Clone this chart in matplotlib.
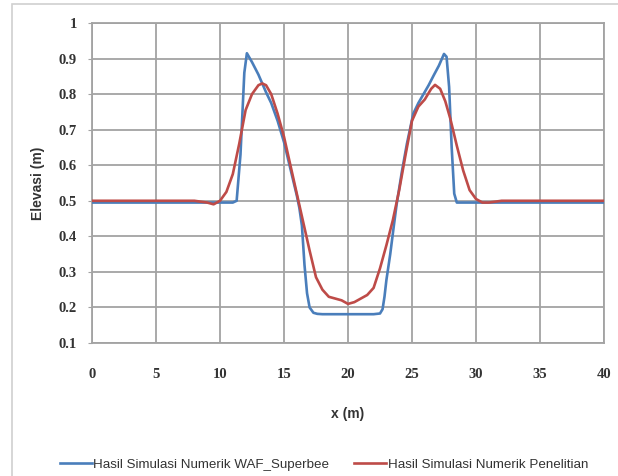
import matplotlib
matplotlib.use("Agg")
import matplotlib.pyplot as plt
from matplotlib.patches import Rectangle

# ---- data ----
x_waf = [0, 5, 10, 11, 11.3, 11.6, 11.9, 12.1, 12.5, 13, 13.3, 13.6, 14, 14.5, 15, 15.5,
         16, 16.2, 16.4, 16.6, 16.8, 17.0, 17.3, 17.6, 18, 19, 20, 21, 22, 22.5,
         22.7, 22.85, 23.0, 23.3, 23.6, 23.8, 24.2, 24.6, 25.1, 25.5, 25.9, 26.3,
         26.7, 27.1, 27.5, 27.7, 27.9, 28.1, 28.3, 28.5, 29, 30, 35, 40]
y_waf = [0.495, 0.495, 0.495, 0.495, 0.50, 0.63, 0.86, 0.915, 0.89, 0.855, 0.83, 0.805,
         0.775, 0.725, 0.665, 0.59, 0.515, 0.48, 0.43, 0.32, 0.24, 0.20, 0.185, 0.182,
         0.181, 0.181, 0.181, 0.181, 0.181, 0.183, 0.195, 0.23, 0.277, 0.35, 0.435,
         0.49, 0.58, 0.66, 0.745, 0.775, 0.80, 0.825, 0.853, 0.88, 0.913, 0.905, 0.82,
         0.65, 0.52, 0.495, 0.495, 0.495, 0.495, 0.495]

x_pen = [0, 5, 8, 9, 9.5, 10, 10.5, 11, 11.5, 12, 12.5, 13, 13.3, 13.6, 14, 14.5, 15,
         15.5, 16, 16.5, 17, 17.5, 18, 18.5, 19, 19.5, 20, 20.5, 21, 21.5, 22, 22.5,
         23, 23.5, 24, 24.5, 25, 25.5, 26, 26.5, 26.8, 27.2, 27.6, 28, 28.5, 29,
         29.5, 30, 30.5, 31, 32, 35, 40]
y_pen = [0.5, 0.5, 0.5, 0.495, 0.49, 0.5, 0.525, 0.575, 0.66, 0.755, 0.80, 0.825, 0.83,
         0.825, 0.80, 0.745, 0.68, 0.60, 0.52, 0.44, 0.36, 0.285, 0.25, 0.23, 0.225,
         0.22, 0.21, 0.215, 0.225, 0.235, 0.255, 0.31, 0.375, 0.445, 0.53, 0.63,
         0.725, 0.765, 0.785, 0.815, 0.826, 0.815, 0.78, 0.73, 0.655, 0.585, 0.53,
         0.505, 0.495, 0.495, 0.5, 0.5, 0.5]

xticks = [0, 5, 10, 15, 20, 25, 30, 35, 40]
yticks = [0.1, 0.2, 0.3, 0.4, 0.5, 0.6, 0.7, 0.8, 0.9, 1.0]
ytick_labels = ['0.1', '0.2', '0.3', '0.4', '0.5', '0.6', '0.7', '0.8', '0.9', '1']
label_waf = 'Hasil Simulasi Numerik WAF_Superbee'
label_pen = 'Hasil Simulasi Numerik Penelitian'
xlabel = 'x (m)'
ylabel = 'Elevasi (m)'

sans = ['Liberation Sans', 'DejaVu Sans']
tickfont = ['Liberation Serif', 'DejaVu Serif']

W, H = 618, 476
fig = plt.figure(figsize=(W / 100, H / 100), dpi=100)
fig.patch.set_facecolor('white')

# faint chart-area border (partially visible in the reference)
fig.patches.append(Rectangle((12 / W, -0.1), 1.2, 1 - 4 / H + 0.1, transform=fig.transFigure,
                             fill=False, edgecolor='#d0d0d0', lw=1.2))

ax = fig.add_axes([92 / W, 1 - 343 / H, (604 - 92) / W, (343 - 23) / H])

grid_c = '#a3a3a3'
ax.plot(x_waf, y_waf, color='#4a7ebb', lw=1.9, label=label_waf, zorder=3)
ax.plot(x_pen, y_pen, color='#be4b48', lw=1.9, label=label_pen, zorder=4)

ax.set_xlim(0, 40)
ax.set_ylim(0.1, 1.0)
ax.set_xticks(xticks)
ax.set_yticks(yticks)
ax.set_yticklabels(ytick_labels)
ax.grid(True, color=grid_c, lw=1.3)
ax.set_axisbelow(True)
for s in ax.spines.values():
    s.set_color(grid_c)
    s.set_linewidth(1.3)

ax.tick_params(axis='x', length=0, pad=18, labelsize=10.5, labelcolor='#333333')
ax.tick_params(axis='y', length=3, color=grid_c, pad=8, labelsize=10.5, labelcolor='#333333')
for t in ax.get_xticklabels() + ax.get_yticklabels():
    t.set_family(tickfont)
    t.set_fontweight('bold')

ax.set_xlabel(xlabel, family=sans, fontweight='bold', fontsize=10, color='#333333',
              labelpad=19)
ax.set_ylabel(ylabel, family=sans, fontweight='bold', fontsize=10, color='#333333',
              labelpad=10)

leg = fig.legend(loc='center', bbox_to_anchor=(324 / W, 1 - 465 / H), ncol=2, frameon=False,
                 prop={'family': sans, 'size': 9.6}, handlelength=2.4, handletextpad=0.1,
                 columnspacing=1.9)
for t in leg.get_texts():
    t.set_color('#333333')

fig.savefig('out.png', dpi=100, facecolor='white')
